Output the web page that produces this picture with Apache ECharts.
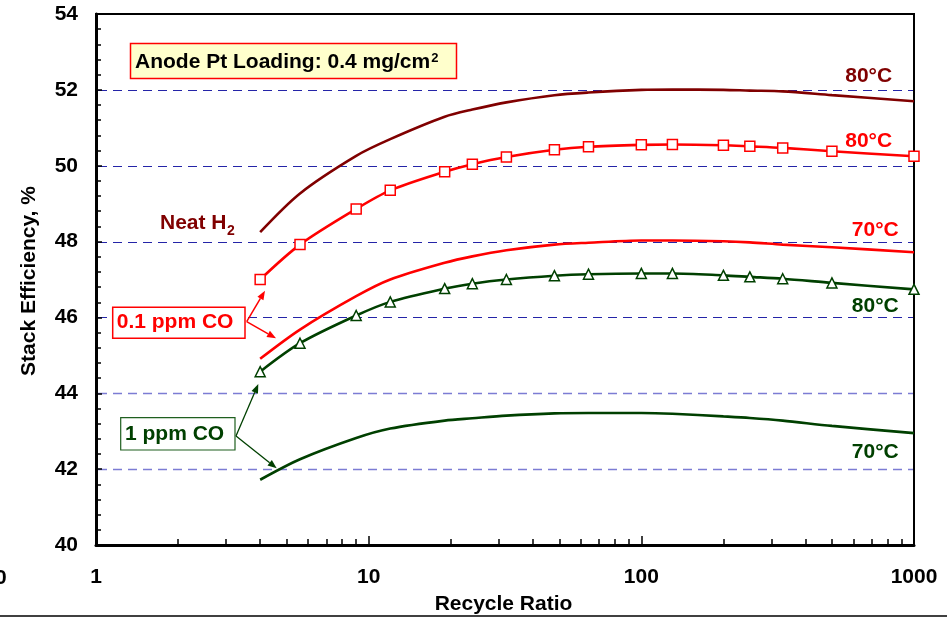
<!DOCTYPE html>
<html>
<head>
<meta charset="utf-8">
<script src="https://cdn.jsdelivr.net/npm/echarts@6/dist/echarts.min.js"></script>
<style>
html,body{margin:0;padding:0;background:#fff;}
#chart{width:947px;height:617px;}
</style>
</head>
<body>
<div id="chart"></div>
<script>
// ---------- data ----------
const recycleRatio = [4, 5.6, 9, 12, 19, 24, 32, 48, 64, 100, 130, 200, 250, 330, 500, 1000];
const neatH2_80C   = [48.25, 49.27, 50.26, 50.70, 51.29, 51.48, 51.67, 51.86, 51.93, 52.00, 52.01, 52.00, 51.98, 51.96, 51.86, 51.70];
const co01_80C     = [47.00, 47.92, 48.86, 49.35, 49.84, 50.04, 50.23, 50.42, 50.50, 50.55, 50.56, 50.54, 50.51, 50.47, 50.38, 50.25];
const co01_70C     = [44.91, 45.68, 46.56, 47.00, 47.44, 47.61, 47.77, 47.92, 47.97, 48.03, 48.03, 48.01, 47.98, 47.92, 47.85, 47.72];
const co1_80C      = [44.57, 45.32, 46.05, 46.41, 46.76, 46.89, 47.00, 47.10, 47.14, 47.16, 47.16, 47.11, 47.07, 47.02, 46.91, 46.74];
const co1_70C      = [41.72, 42.26, 42.82, 43.07, 43.28, 43.34, 43.41, 43.47, 43.48, 43.48, 43.46, 43.39, 43.35, 43.28, 43.14, 42.95];
const xMinorTicks  = [2,3,4,5,6,7,8,9,20,30,40,50,60,70,80,90,200,300,400,500,600,700,800,900];
const gridLevelsLight = [42, 44];
const gridLevelsDark  = [46, 48, 50, 52];
const yMin = 40, yMax = 54, yStep = 2;

// ---------- styles ----------
const FAM = '"Liberation Sans", Arial, Helvetica, sans-serif';
const F21 = 'bold 21px ' + FAM;
const MAROON = '#800000', RED = '#ff0000', GREEN = '#004000';
const DARKGRID = '#2424a8', LIGHTGRID = '#7c7cd4';

const mctx = document.createElement('canvas').getContext('2d');
function tw(s, font){ mctx.font = font; return mctx.measureText(s).width; }

function pairs(arr){ return recycleRatio.map((x,i)=>[x, arr[i]]); }

function txt(s, x, y, fill, opts){
  opts = opts || {};
  return { type:'text', x:x, y:y, rotation: opts.rotation || 0, z:100,
    style:{ text:s, font: opts.font || F21, fill:fill, align: opts.align || 'left', verticalAlign:'middle' } };
}
function arrow(x1,y1,x2,y2,color,w){
  const ang = Math.atan2(y2-y1, x2-x1), L = 9, H = 3.5;
  const bx = x2 - L*Math.cos(ang), by = y2 - L*Math.sin(ang);
  const px = -Math.sin(ang)*H, py = Math.cos(ang)*H;
  return [
    { type:'line', z:100, shape:{x1:x1,y1:y1,x2:bx,y2:by}, style:{stroke:color, lineWidth:w} },
    { type:'polygon', z:100, shape:{points:[[x2,y2],[bx+px,by+py],[bx-px,by-py]]}, style:{fill:color} }
  ];
}

const graphics = [];
// title box
graphics.push({ type:'rect', z:99, shape:{x:130.5, y:43.5, width:326, height:35}, style:{fill:'#ffffcc', stroke:RED, lineWidth:1.5} });
const t1 = 'Anode Pt Loading: 0.4 mg/cm';
graphics.push(txt(t1, 135, 62.5, '#000'));
graphics.push(txt('2', 135 + tw(t1, F21) + 1, 58.5, '#000', {font:'bold 13px ' + FAM}));
// Neat H2
const t2 = 'Neat H';
graphics.push(txt(t2, 160, 223.7, MAROON));
graphics.push(txt('2', 160 + tw(t2, F21) + 0.5, 231, MAROON, {font:'bold 14px ' + FAM}));
// 0.1 ppm CO box
graphics.push({ type:'rect', z:99, shape:{x:112.7, y:307.3, width:132.3, height:31}, style:{fill:'#fff', stroke:RED, lineWidth:1.5} });
graphics.push(txt('0.1 ppm CO', 116.7, 322.5, RED));
graphics.push(...arrow(246.7,321.7,265,290.7,RED,1.5));
graphics.push(...arrow(246.7,321.7,276,338.3,RED,1.5));
// 1 ppm CO box
graphics.push({ type:'rect', z:99, shape:{x:120.7, y:417.7, width:114.3, height:32.3}, style:{fill:'#fff', stroke:'#1f5f1f', lineWidth:1.2} });
graphics.push(txt('1 ppm CO', 125, 434, GREEN));
graphics.push(...arrow(236,436,258.3,384,GREEN,1.3));
graphics.push(...arrow(236,436,276.7,468.3,GREEN,1.3));
// temperature labels
graphics.push(txt('80°C', 868.7, 75.8, MAROON, {align:'center'}));
graphics.push(txt('80°C', 868.7, 140.8, RED, {align:'center'}));
graphics.push(txt('70°C', 875.3, 230.2, RED, {align:'center'}));
graphics.push(txt('80°C', 875.3, 306.5, GREEN, {align:'center'}));
graphics.push(txt('70°C', 875.3, 452.5, GREEN, {align:'center'}));
// axis titles
graphics.push(txt('Stack Efficiency, %', 29, 281, '#000', {align:'center', rotation:Math.PI/2}));
graphics.push(txt('Recycle Ratio', 503.5, 604.5, '#000', {align:'center'}));
// stray cropped label + bottom rule
graphics.push(txt('0', -5, 578.5, '#000'));
graphics.push({ type:'line', z:100, shape:{x1:0,y1:616,x2:947,y2:616}, style:{stroke:'#000', lineWidth:1.5} });

const option = {
  animation:false,
  backgroundColor:'#fff',
  grid:{ left:96, right:33, top:14, bottom:72, show:true, borderColor:'#000', borderWidth:2, backgroundColor:'transparent' },
  xAxis:[{
    type:'log', logBase:10, min:1, max:1000,
    axisLine:{ lineStyle:{ color:'#000', width:3 } },
    axisTick:{ inside:true, length:9, lineStyle:{ color:'#000', width:1.5 } },
    axisLabel:{ fontSize:21, fontWeight:'bold', fontFamily:FAM, color:'#000', margin:22, formatter: v => String(v) },
    splitLine:{ show:false }, minorTick:{show:false}
  },{
    type:'log', logBase:10, min:1, max:1000, position:'bottom',
    axisLine:{ show:false },
    axisTick:{ inside:true, length:6, customValues:xMinorTicks, lineStyle:{ color:'#000', width:1.5 } },
    axisLabel:{ show:false },
    splitLine:{ show:false }
  }],
  yAxis:{
    type:'value', min:yMin, max:yMax, interval:yStep,
    axisLine:{ show:true, lineStyle:{ color:'#000', width:3 } },
    axisTick:{ show:true, inside:true, length:6, lineStyle:{ color:'#000', width:1.5 } },
    minorTick:{ show:true, splitNumber:5, length:5, lineStyle:{ color:'#000', width:1.5 } },
    axisLabel:{ fontSize:21, fontWeight:'bold', fontFamily:FAM, color:'#000', margin:18 },
    splitLine:{ show:false }
  },
  series:[
    { name:'Neat H2 80°C', type:'line', data:pairs(neatH2_80C), smooth:0.3, showSymbol:false,
      lineStyle:{ color:MAROON, width:2.6 }, itemStyle:{color:MAROON}, z:5 },
    { name:'0.1 ppm CO 80°C', type:'line', data:pairs(co01_80C), smooth:0.3, symbol:'rect', symbolSize:10,
      lineStyle:{ color:RED, width:2.6 }, itemStyle:{ color:'#fff', borderColor:RED, borderWidth:1.5 }, z:6 },
    { name:'0.1 ppm CO 70°C', type:'line', data:pairs(co01_70C), smooth:0.3, showSymbol:false,
      lineStyle:{ color:RED, width:2.6 }, itemStyle:{color:RED}, z:5 },
    { name:'1 ppm CO 80°C', type:'line', data:pairs(co1_80C), smooth:0.3, symbol:'triangle', symbolSize:10,
      lineStyle:{ color:GREEN, width:2.6 }, itemStyle:{ color:'#fff', borderColor:GREEN, borderWidth:1.5 }, z:6 },
    { name:'1 ppm CO 70°C', type:'line', data:pairs(co1_70C), smooth:0.3, showSymbol:false,
      lineStyle:{ color:GREEN, width:2.6 }, itemStyle:{color:GREEN}, z:5 }
  ]
};

const chart = echarts.init(document.getElementById('chart'), null, {renderer:'canvas'});
chart.setOption(option);

// dashed reference lines placed through the y axis scale, snapped to whole pixels
const x0 = chart.convertToPixel({xAxisIndex:0}, 1) + 2;
const x1 = chart.convertToPixel({xAxisIndex:0}, 1000) - 1;
function gridLine(v, color, w){
  const y = Math.round(chart.convertToPixel({yAxisIndex:0}, v)) + 0.5;
  return { type:'line', z:0, silent:true, shape:{x1:x0, y1:y, x2:x1, y2:y},
    style:{ stroke:color, lineWidth:w, lineDash:[9,6] } };
}
const gridLines = gridLevelsLight.map(v => gridLine(v, LIGHTGRID, 1.6))
  .concat(gridLevelsDark.map(v => gridLine(v, DARKGRID, 1.1)));
chart.setOption({ graphic: gridLines.concat(graphics) });
</script>
</body>
</html>
